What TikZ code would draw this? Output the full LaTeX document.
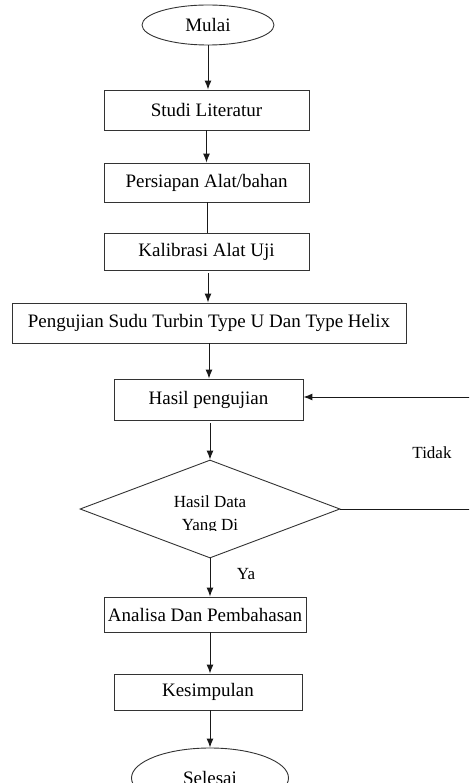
\documentclass[tikz,border=0pt]{standalone}
\usepackage{fontspec}
\setmainfont{Liberation Serif}
\usetikzlibrary{arrows.meta,shapes.geometric,calc,positioning}
\tikzset{
  kotak/.style={draw=black!80,line width=0.9pt,inner sep=0pt},
  elips/.style={ellipse,draw=black!80,line width=0.9pt,inner sep=0pt},
  ketupat/.style={diamond,draw=black!80,line width=0.9pt,inner sep=0pt},
  garis/.style={draw=black!90,line width=1pt},
  panah/.style={garis,-{Latex[length=9pt,width=7pt]}},
  teks/.style={font=\fontsize{17}{20}\selectfont}
}
\begin{document}
\begin{tikzpicture}[x=1pt,y=-1pt,font=\fontsize{19}{22}\selectfont]
\useasboundingbox (0,0) rectangle (469,783);
\clip (0,0) rectangle (469,783);
% urutan proses
\node[elips,minimum width=132pt,minimum height=40pt] (mulai) at (208,25) {Mulai};
\node[kotak,minimum width=205pt,minimum height=40pt] (studi) at (206.5,110) {Studi Literatur};
\node[kotak,minimum width=205pt,minimum height=39pt] (siap) at (206.5,182.5) {Persiapan Alat/bahan};
\node[kotak,minimum width=205pt,minimum height=37pt] (kalib) at (206.5,251.5) {Kalibrasi Alat Uji};
\node[kotak,minimum width=394pt,minimum height=40pt] (uji) at (209,323) {Pengujian Sudu Turbin Type U Dan Type Helix};
\node[kotak,minimum width=189pt,minimum height=41pt] (hasil) at (208.5,399.5) {Hasil pengujian};
\node[ketupat,minimum width=260pt,minimum height=98pt] (cek) at (210,509) {};
\begin{scope}
  \clip (150,480) rectangle (270,530);
  \node[teks,anchor=base] (cek1) at (210,507) {Hasil Data};
  \node[teks,anchor=base] (cek2) at (210,530) {Yang Di};
\end{scope}
\node[kotak,minimum width=202pt,minimum height=35pt] (analisa) at (205,614.5) {Analisa Dan Pembahasan};
\node[kotak,minimum width=188pt,minimum height=36pt] (simpul) at (208,692) {Kesimpulan};
\node[elips,minimum width=157pt,minimum height=60pt] (selesai) at (210,778) {Selesai};
\node[teks] (tidak) at (432,453) {Tidak};
\node[teks] (ya) at (246,574) {Ya};
% panah
\coordinate (s1) at ($(siap.south)+(1,0)$);
\coordinate (k1) at ($(kalib.south)+(1.5,0)$);
\coordinate (h1) at ($(hasil.south)+(1.5,0)$);
\draw[panah] (mulai) -- (mulai |- studi.north);
\draw[panah] (studi.south) -- (siap.north);
\draw[garis] (s1) -- (s1 |- kalib.north);
\draw[panah,shorten <=3pt] (k1) -- (k1 |- uji.north);
\draw[panah] (uji.south) -- (uji.south |- hasil.north);
\draw[panah,shorten <=3pt] (h1) -- (cek.north);
\draw[panah] (cek.south) -- (cek.south |- analisa.north);
\draw[panah] (analisa.south -| cek.south) -- (cek.south |- simpul.north);
\draw[panah] (simpul.south -| cek.south) -- (selesai.north);
% umpan balik Tidak
\coordinate (kanan1) at (480,397);
\coordinate (kanan2) at (480,509);
\draw[garis] (cek.east) -- (kanan2);
\draw[panah] (kanan1) -- (kanan1 -| hasil.east);
\end{tikzpicture}
\end{document}
